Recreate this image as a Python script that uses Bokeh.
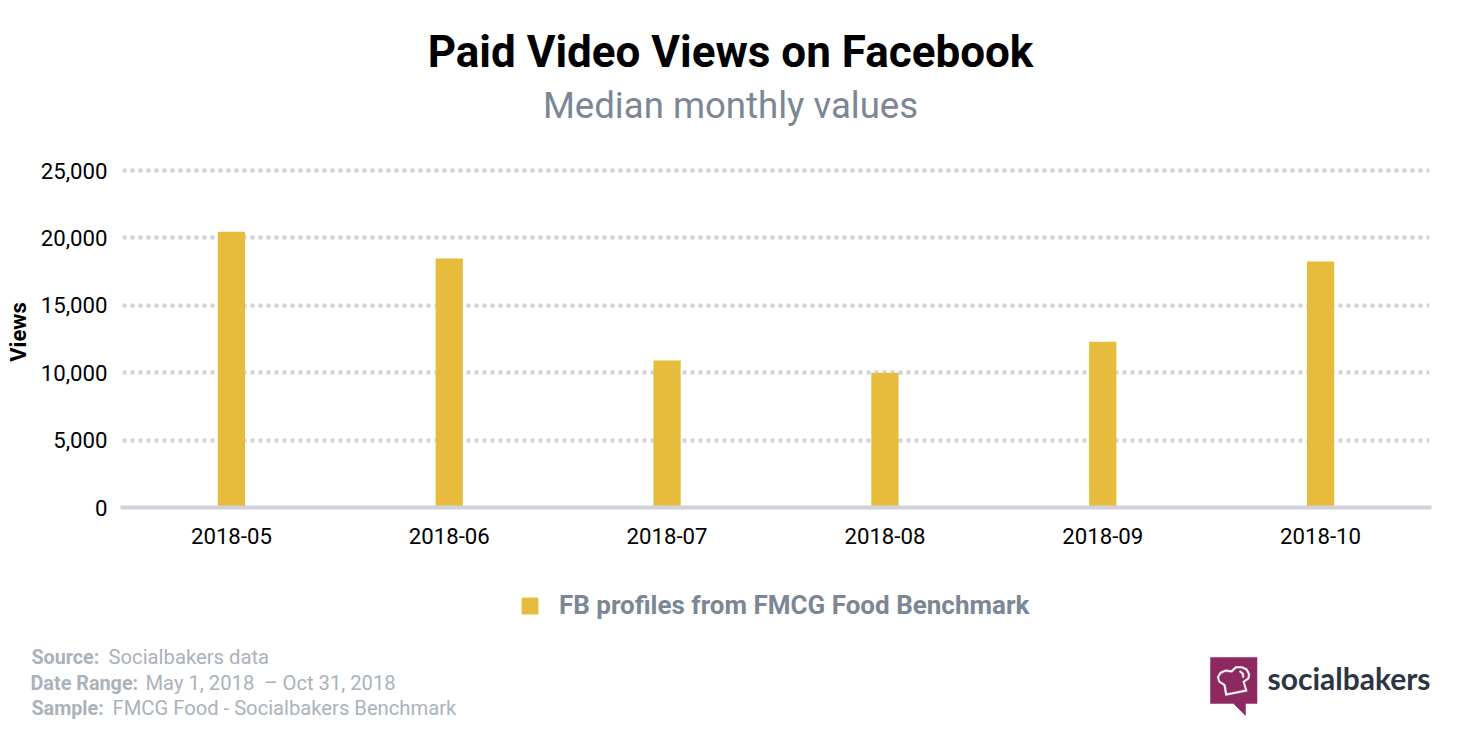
from bokeh.embed import file_html
from bokeh.layouts import column
from bokeh.resources import INLINE
from bokeh.plotting import figure
from bokeh.models import Label, Legend, LegendItem, NumeralTickFormatter, PolyAnnotation, Range1d, FixedTicker

months = ["2018-05", "2018-06", "2018-07", "2018-08", "2018-09", "2018-10"]
views = [20450, 18470, 10900, 10000, 12300, 18250]
y_ticks = [0, 5000, 10000, 15000, 20000, 25000]
series_name = "FB profiles from FMCG Food Benchmark"
title_text = "Paid Video Views on Facebook"
subtitle_text = "Median monthly values"
BAR_COLOR = "#e7bc3d"

W = 1460
FONT = "Roboto"
HEAD_H, MAIN_H, FOOT_H = 156, 414, 160
FOOT_TOP = HEAD_H + MAIN_H


def blank(height):
    f = figure(width=W, height=height, x_range=Range1d(0, 1), y_range=Range1d(0, 1),
               x_axis_location=None, y_axis_location=None, output_backend="svg",
               toolbar_location=None, min_border=0)
    f.outline_line_color = None
    f.grid.visible = False
    return f


head = blank(HEAD_H)
foot = blank(FOOT_H)

p = figure(width=W, height=MAIN_H, frame_width=1307, frame_height=351,
           x_range=months, y_range=Range1d(0, 26039),
           output_backend="svg", toolbar_location=None,
           min_border_left=122, min_border_right=31, min_border_top=0, min_border_bottom=63)
p.outline_line_color = None

p.vbar(x=months, top=views, width=0.125, color=BAR_COLOR, line_color=None)

p.xgrid.grid_line_color = None
p.ygrid.ticker = FixedTicker(ticks=y_ticks)
p.ygrid.grid_line_color = "#d0d2dc"
p.ygrid.grid_line_width = 4
p.ygrid.grid_line_dash = [4, 4]

p.yaxis.ticker = FixedTicker(ticks=y_ticks)
p.yaxis.formatter = NumeralTickFormatter(format="0,0")
p.yaxis.axis_line_color = None
p.yaxis.major_tick_line_color = None
p.yaxis.minor_tick_line_color = None
p.yaxis.major_tick_out = 0
p.yaxis.major_label_standoff = 15
p.yaxis.major_label_text_font = FONT
p.yaxis.major_label_text_font_size = "22.2px"
p.yaxis.major_label_text_color = "#000000"
p.yaxis.axis_label = "Views"
p.yaxis.axis_label_text_font = FONT
p.yaxis.axis_label_text_font_size = "22px"
p.yaxis.axis_label_text_font_style = "bold"
p.yaxis.axis_label_text_color = "#000000"
p.yaxis.axis_label_standoff = 7

p.xaxis.axis_line_color = "#d0d2dc"
p.xaxis.axis_line_width = 4
p.xaxis.axis_line_cap = "square"
p.xaxis.major_tick_line_color = None
p.xaxis.minor_tick_line_color = None
p.xaxis.major_tick_out = 0
p.xaxis.major_label_standoff = 20
p.xaxis.major_label_text_font = FONT
p.xaxis.major_label_text_font_size = "22.2px"
p.xaxis.major_label_text_color = "#000000"

# The key's bar lies outside the blank figure's range: only its legend swatch shows.
key = foot.vbar(x=[-1], top=[-1], width=0.1, color=BAR_COLOR, line_color=None)
legend = Legend(items=[LegendItem(label=series_name, renderers=[key])],
                location=(519, 110), orientation="horizontal",
                border_line_color=None, background_fill_alpha=0,
                glyph_width=21, glyph_height=21, label_standoff=19,
                label_text_font=FONT, label_text_font_size="26px",
                label_text_font_style="bold", label_text_color="#7b8794",
                margin=0, padding=0)
foot.add_layout(legend)


def text(fig, top, s, x, y, size, color, style="normal", align="left", font=FONT):
    fig.add_layout(Label(x=x, y=fig.height - (y - top) + 0.36 * size, x_units="screen", y_units="screen", text=s,
                         text_font=font, text_font_size=f"{size}px", text_font_style=style,
                         text_color=color, text_align=align, text_baseline="alphabetic"))


text(head, 0, title_text, 730, 67, 44, "#000000", "bold", "center")
text(head, 0, subtitle_text, 730, 118, 36.6, "#7b8794", "normal", "center")

GREY = "#aab2bb"
text(foot, FOOT_TOP, "Source:", 31, 664, 19.7, GREY, "bold")
text(foot, FOOT_TOP, "Socialbakers data", 108, 664, 20.25, GREY)
text(foot, FOOT_TOP, "Date Range:", 30, 690, 19.8, GREY, "bold")
text(foot, FOOT_TOP, "May 1, 2018\u00a0 \u2013 Oct 31, 2018", 145, 690, 20.2, GREY)
text(foot, FOOT_TOP, "Sample:", 31, 715, 19.7, GREY, "bold")
text(foot, FOOT_TOP, "FMCG Food - Socialbakers Benchmark", 112, 715, 20.2, GREY)
text(foot, FOOT_TOP, "socialbakers", 1267, 688, 30, "#2b3544", "bold", font="Lato")


def logo_shape(points, color):
    xs = [px for px, _ in points]
    ys = [FOOT_H - (py - FOOT_TOP) for _, py in points]
    foot.add_layout(PolyAnnotation(xs=xs, ys=ys, xs_units="screen", ys_units="screen",
                                   fill_color=color, fill_alpha=1, line_color=color, line_alpha=1,
                                   line_width=0.5, level="overlay"))


bubble = [(1210, 657), (1256.5, 657), (1256.5, 703), (1245, 703), (1245, 715), (1233, 703), (1210, 703)]
hat_outer = [(1216.7, 676.7), (1219.3, 671.7), (1225, 669.3), (1230.7, 670), (1235, 666), (1241.7, 666),
             (1246.7, 668.3), (1249.3, 673.3), (1248.7, 678.3), (1244, 681.7), (1246.7, 690.7),
             (1225, 695), (1223.3, 685), (1218.3, 681.7)]
hat_inner = [(1218.8, 676.7), (1220.8, 673.4), (1225, 671.4), (1231.5, 672.2), (1235.8, 668.1), (1241.2, 668.1),
             (1245.2, 670), (1247.2, 673.8), (1246.8, 677.2), (1241.8, 680.8), (1244.2, 689),
             (1226.8, 692.6), (1225.2, 683.8), (1219.6, 680.2)]
hat_curl = [(1239.5, 670), (1243, 672.5), (1243.5, 677), (1242, 677), (1241.5, 673.5), (1238.8, 671.4)]
logo_shape(bubble, "#8e2860")
logo_shape(hat_outer, "#ffffff")
logo_shape(hat_inner, "#8e2860")
logo_shape(hat_curl, "#ffffff")

page = column(column(head), p, column(foot))
open("out.html", "w").write(file_html(page, INLINE))
